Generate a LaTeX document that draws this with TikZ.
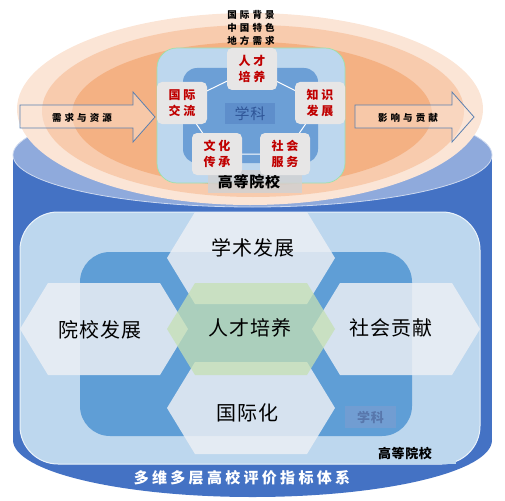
\documentclass[tikz,border=0pt]{standalone}
\usepackage{fontspec}
\setmainfont{Noto Sans CJK SC}
\newfontfamily\cjksp{Noto Sans CJK SC}[LetterSpace=22]
\newfontfamily\cjkwide{Noto Sans CJK SC}[LetterSpace=32]
\newfontfamily\cjkbig{Noto Sans CJK SC}[LetterSpace=5]
\definecolor{cylblue}{HTML}{4472C4}
\definecolor{cyltop}{HTML}{8FAADC}
\definecolor{orA}{HTML}{FBE5D6}
\definecolor{orB}{HTML}{F8CBAD}
\definecolor{orC}{HTML}{F4B183}
\definecolor{lblue}{HTML}{BDD7EE}
\definecolor{mblue}{HTML}{5F9ED6}
\definecolor{uinner}{HTML}{6C9FD6}
\definecolor{xkbox}{HTML}{5E8ECB}
\definecolor{xktxt}{HTML}{2F5597}
\definecolor{boxgray}{HTML}{E7E6E6}
\definecolor{redtxt}{HTML}{C00000}
\definecolor{hexw}{HTML}{ECEFF4}
\definecolor{hexg}{HTML}{C5E0B4}
\definecolor{arrline}{HTML}{5B80B0}
\begin{document}
\begin{tikzpicture}[x=1pt,y=-1pt,
  ubox/.style={fill=boxgray, rounded corners=5pt, minimum width=50pt, minimum height=42pt,
    text=redtxt, font=\cjksp\bfseries\fontsize{12}{16}\selectfont, align=center, inner sep=0pt},
  arrowshape/.style={fill=orA, fill opacity=0.45, draw=arrline, line width=0.8pt},
  smalltxt/.style={font=\cjkwide\bfseries\fontsize{9.5}{12}\selectfont, text=black, inner sep=0pt},
  hexwhite/.style={fill=hexw, fill opacity=0.85},
  hexgreen/.style={fill=hexg, fill opacity=0.75},
  hextxt/.style={font=\cjkbig\fontsize{20}{24}\selectfont, text=black, inner sep=0pt},
  pentaline/.style={draw=white, line width=1pt}
]
\useasboundingbox (0,0) rectangle (505,500);

% cylinder
\fill[cylblue] (13,155) rectangle (492,440);
\fill[cylblue] (252.5,440) ellipse [x radius=239.5, y radius=57];
\filldraw[fill=cyltop, draw=white!55!cyltop, line width=0.8pt] (252.5,155) ellipse [x radius=239.5, y radius=52];

% orange rings
\fill[orA] (250,109) ellipse [x radius=233, y radius=96];
\fill[orB] (253,111) ellipse [x radius=211, y radius=86];
\fill[orC] (252,114) ellipse [x radius=180, y radius=72];

% top texts
\node[smalltxt] (t1) at (251,15) {国际背景};
\node[smalltxt] (t2) at (251,28) {中国特色};
\node[smalltxt] (t3) at (251,41) {地方需求};

% arrows
\draw[arrowshape] (20,105) -- (133,105) -- (133,92) -- (155,117) -- (133,142) -- (133,128) -- (20,128) -- cycle;
\draw[arrowshape] (355,105) -- (452,105) -- (452,92) -- (474,117) -- (452,142) -- (452,128) -- (355,128) -- cycle;
\node[smalltxt] (needs) at (82,118) {需求与资源};
\node[smalltxt] (impact) at (408,118) {影响与贡献};

% upper block
\filldraw[fill=lblue, draw=hexg!70!green!60!lblue, line width=0.7pt, rounded corners=20pt] (157,48) rectangle (345,183);
\fill[uinner, rounded corners=14pt] (183,68) rectangle (318,163);

\coordinate (cA) at (252,69);
\coordinate (cB) at (320,103);
\coordinate (cC) at (285,154);
\coordinate (cD) at (217,154);
\coordinate (cE) at (182,103);
\draw[pentaline] (cA) -- (cB) -- (cC) -- (cD) -- (cE) -- cycle;

\node[fill=xkbox, minimum width=50pt, minimum height=21pt, inner sep=0pt, text=xktxt,
  font=\cjkbig\fontsize{15}{18}\selectfont] (xk1) at (250,113.5) {学科};
\node[fill=gray!35, fill opacity=0.85, text opacity=1, minimum width=94pt, minimum height=23pt, inner sep=0pt,
  font=\cjkbig\bfseries\fontsize{15}{18}\selectfont] (gd1) at (255,181.5) {\hspace*{-12pt}高等院校};

\node[ubox] (bA) at (cA) {人才\\培养};
\node[ubox] (bB) at (cB) {知识\\发展};
\node[ubox] (bC) at (cC) {社会\\服务};
\node[ubox] (bD) at (cD) {文化\\传承};
\node[ubox] (bE) at (cE) {国际\\交流};

% lower block
\filldraw[fill=lblue, draw=white!70!lblue, line width=1pt, rounded corners=38pt] (20,212) rectangle (480,464);
\fill[mblue, rounded corners=30pt] (80,252) rectangle (412,436);

\fill[hexwhite, shift={(251,258)}] (-84,0) -- (-56,-46) -- (56,-46) -- (84,0) -- (56,46) -- (-56,46) -- cycle;
\fill[hexwhite, shift={(104,329)}] (-84,0) -- (-56,-46) -- (56,-46) -- (84,0) -- (56,46) -- (-56,46) -- cycle;
\fill[hexwhite, shift={(396,329)}] (-84,0) -- (-56,-46) -- (56,-46) -- (84,0) -- (56,46) -- (-56,46) -- cycle;
\fill[hexwhite, shift={(251,408)}] (-84,0) -- (-56,-46) -- (56,-46) -- (84,0) -- (56,46) -- (-56,46) -- cycle;
\fill[hexgreen, shift={(251,329)}] (-84,0) -- (-56,-46) -- (56,-46) -- (84,0) -- (56,46) -- (-56,46) -- cycle;

\node[hextxt] (h1) at (253,248) {学术发展};
\node[hextxt] (h2) at (100,330) {院校发展};
\node[hextxt] (h3) at (250,328) {人才培养};
\node[hextxt] (h4) at (391,328) {社会贡献};
\node[hextxt] (h5) at (247,413) {国际化};

\node[fill=xkbox!80!lblue, minimum width=51pt, minimum height=22pt, inner sep=0pt, text=xktxt!80!white,
  font=\cjkbig\bfseries\fontsize{13}{16}\selectfont] (xk2) at (370.5,417) {学科};
\node[fill=lblue, minimum width=86pt, minimum height=21pt, inner sep=0pt,
  font=\cjkbig\bfseries\fontsize{13}{16}\selectfont] (gd2) at (413,453.5) {\hspace*{-16pt}高等院校};

\node[text=white, inner sep=0pt, font=\cjksp\bfseries\fontsize{15}{18}\selectfont] (title) at (242,478) {多维多层高校评价指标体系};
\end{tikzpicture}
\end{document}
